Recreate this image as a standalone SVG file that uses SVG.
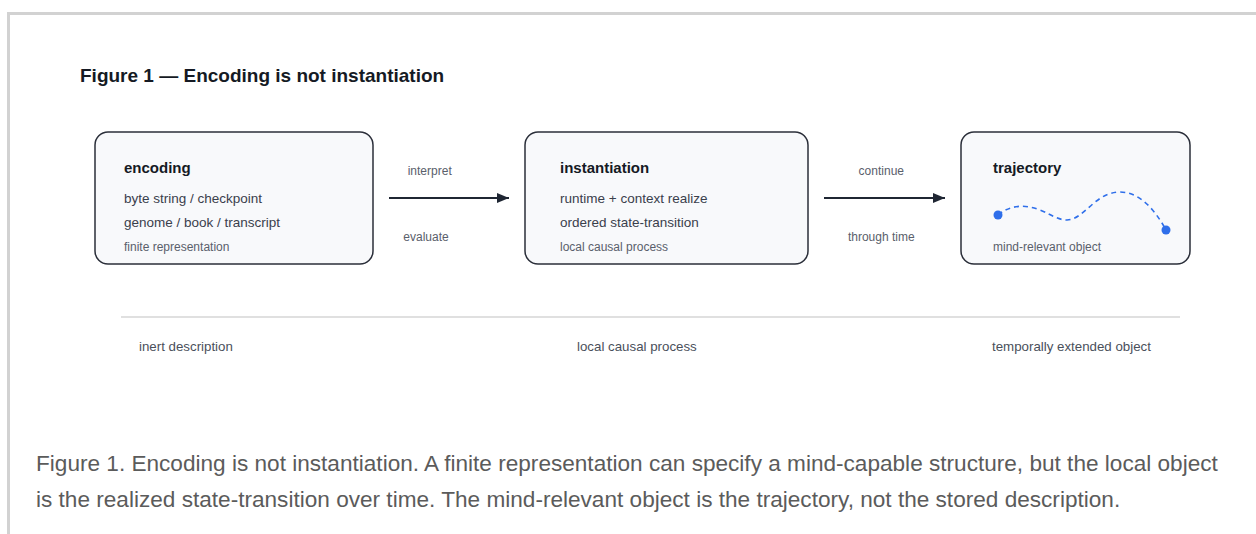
<svg xmlns="http://www.w3.org/2000/svg" width="1256" height="534" viewBox="0 0 1256 534">
<defs>
<style>
text{font-family:"Liberation Sans",Arial,sans-serif}
.frame{stroke:#d2d2d2;stroke-width:3;fill:none}
.box{fill:#f8f9fb;stroke:#2b2f3a;stroke-width:1.5}
.head{font-size:19px;font-weight:bold;fill:#151a24}
.ttl{font-size:15px;font-weight:bold;fill:#151a24}
.body{font-size:13.5px;fill:#3a404c}
.small{font-size:12px;fill:#5a606b}
.lbl{font-size:12px;fill:#5a606b}
.foot{font-size:13.3px;fill:#4a505b}
.cap{font-size:22.6px;fill:#5b5b5b}
.conn{stroke:#1f2633;stroke-width:1.8;fill:none}
</style>
<marker id="ah" viewBox="0 0 12 10" refX="12" refY="5" markerWidth="12" markerHeight="10" markerUnits="userSpaceOnUse" orient="auto">
<path d="M0,0 L12,5 L0,10 Z" fill="#1f2633"/>
</marker>
</defs>
<rect width="1256" height="534" fill="#ffffff"/>
<path class="frame" d="M8.5,534 V13.5 H1256"/>
<text x="80" y="82" class="head">Figure 1 — Encoding is not instantiation</text>

<g id="node-encoding">
<rect class="box" x="95" y="132" width="278" height="132" rx="13"/>
<text x="124" y="173" class="ttl">encoding</text>
<text x="124" y="203" class="body">byte string / checkpoint</text>
<text x="124" y="227" class="body">genome / book / transcript</text>
<text x="124" y="251" class="small">finite representation</text>
</g>

<g id="node-instantiation">
<rect class="box" x="525" y="132" width="283" height="132" rx="13"/>
<text x="560" y="173" class="ttl">instantiation</text>
<text x="560" y="203" class="body">runtime + context realize</text>
<text x="560" y="227" class="body">ordered state-transition</text>
<text x="560" y="251" class="small">local causal process</text>
</g>

<g id="node-trajectory">
<rect class="box" x="961" y="132" width="229" height="132" rx="13"/>
<text x="993" y="173" class="ttl">trajectory</text>
<path d="M998,215 C1010,205 1025,204 1040,210 C1052,215 1058,220 1067,220 C1085,219 1095,192 1120,192 C1140,192 1155,210 1166,230" fill="none" stroke="#2f6fea" stroke-width="1.6" stroke-dasharray="5 4"/>
<circle cx="998" cy="215" r="4.5" fill="#2f6fea"/>
<circle cx="1166" cy="230" r="4.5" fill="#2f6fea"/>
<text x="993" y="251" class="small">mind-relevant object</text>
</g>

<g id="connectors">
<line class="conn" x1="389" y1="198" x2="509" y2="198" marker-end="url(#ah)"/>
<text x="407.7" y="174.5" class="lbl">interpret</text>
<text x="403.3" y="241" class="lbl">evaluate</text>
<line class="conn" x1="824" y1="198" x2="945" y2="198" marker-end="url(#ah)"/>
<text x="881.3" y="175" class="lbl" text-anchor="middle">continue</text>
<text x="881.3" y="241" class="lbl" text-anchor="middle">through time</text>
</g>

<g id="axis">
<line x1="121" y1="317" x2="1180" y2="317" stroke="#d6d6d6" stroke-width="1.5"/>
<text x="139" y="351" class="foot">inert description</text>
<text x="577" y="351" class="foot">local causal process</text>
<text x="992" y="351" class="foot">temporally extended object</text>
</g>

<text x="36" y="471" class="cap">Figure 1. Encoding is not instantiation. A finite representation can specify a mind-capable structure, but the local object</text>
<text x="36" y="507" class="cap">is the realized state-transition over time. The mind-relevant object is the trajectory, not the stored description.</text>
</svg>
